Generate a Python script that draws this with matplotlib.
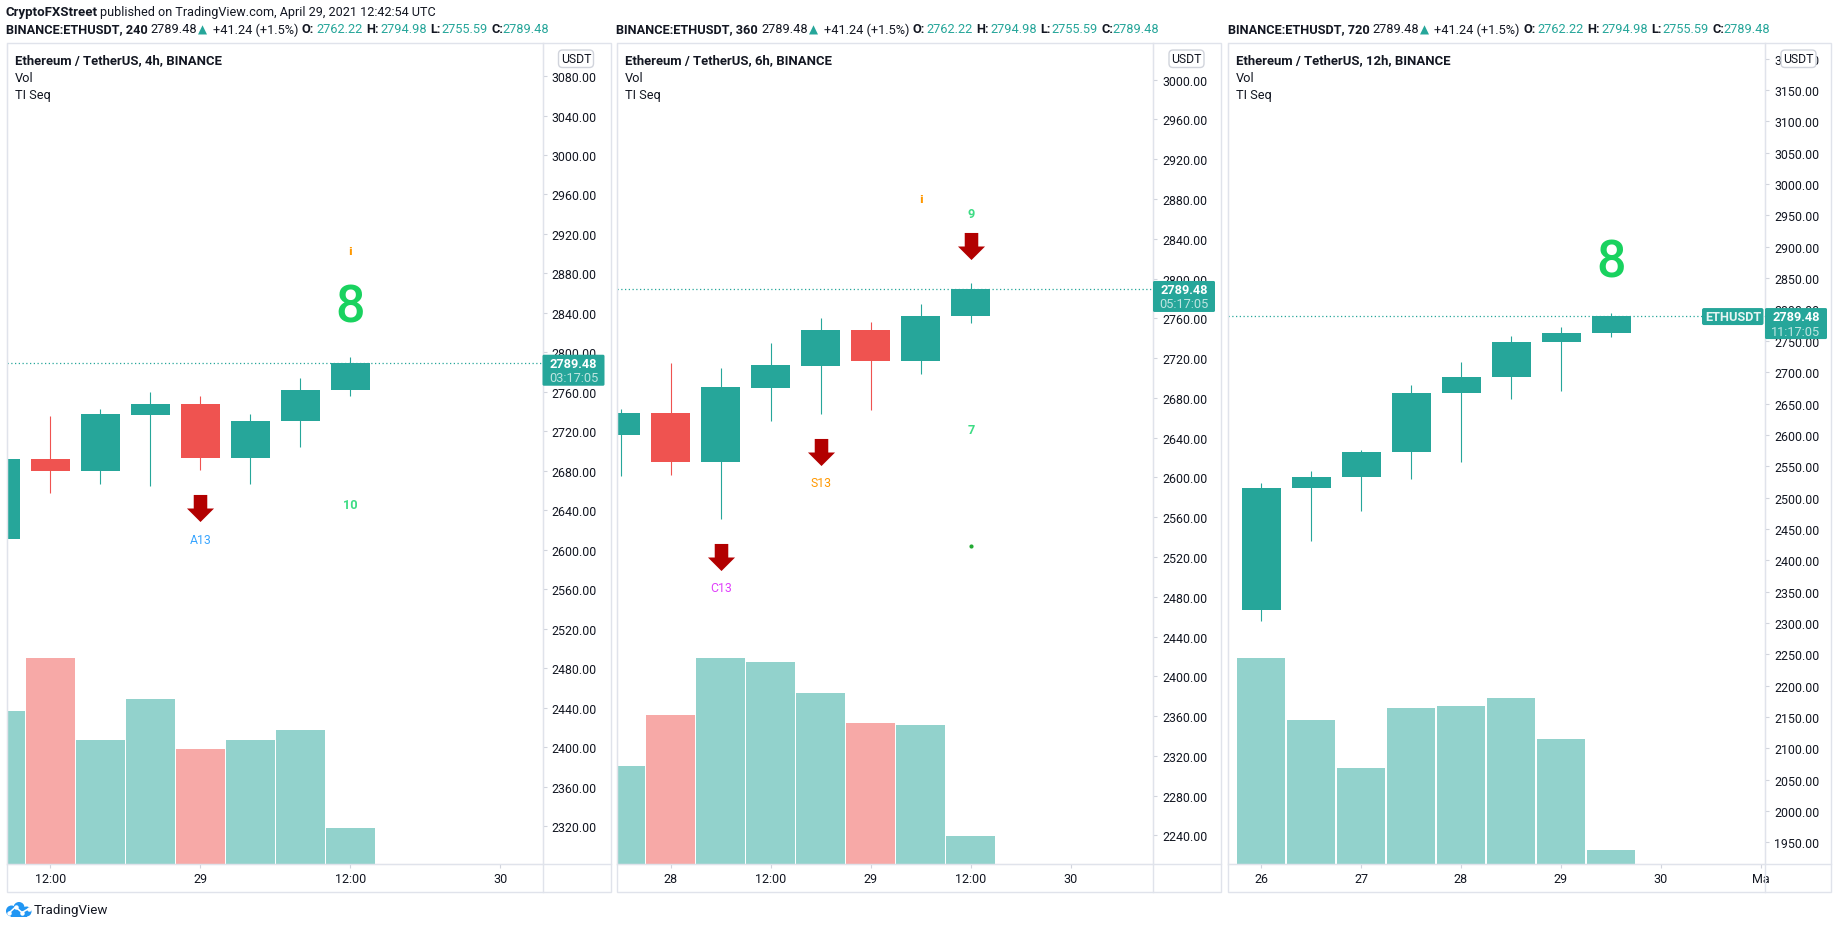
import matplotlib
matplotlib.use("Agg")
import matplotlib.pyplot as plt
from matplotlib.patches import Rectangle, FancyBboxPatch, Circle
from matplotlib.lines import Line2D
from matplotlib.path import Path
from matplotlib.transforms import Affine2D

W, H = 1838, 929
plt.rcParams["font.family"] = ["Roboto", "DejaVu Sans"]

GREEN, RED = "#26a69a", "#ef5350"
VGREEN, VRED = "#92d2cc", "#f7a9a7"
INK = "#131722"
LINE = "#e0e3eb"
LAST_CLOSE = 2789.48

# ---- 4h panel
h4_open = [2611, 2692, 2680, 2737, 2748, 2693, 2730, 2762.22]
h4_close = [2692, 2680, 2738, 2748, 2693, 2730.5, 2762, 2789.48]
h4_high = [2692, 2735, 2743, 2760, 2756, 2738, 2774, 2794.98]
h4_low = [2611, 2657, 2667, 2665, 2681, 2667, 2704, 2755.59]
h4_volume = [153, 206, 124, 165, 115, 124, 134, 36]
h4_yticks = list(range(2320, 3081, 40))
h4_xticks = [1, 4, 7, 10]
h4_xlabels = ["12:00", "29", "12:00", "30"]

# ---- 6h panel
h6_open = [2643, 2665, 2616, 2690, 2712, 2748, 2717, 2762.22]
h6_close = [2665, 2616, 2691, 2713, 2748, 2717, 2762, 2789.48]
h6_high = [2669, 2715, 2710, 2735, 2760, 2756, 2774, 2794.98]
h6_low = [2601, 2602, 2558, 2657, 2664, 2668, 2704, 2755.59]
h6_volume = [98, 149, 206, 202, 171, 141, 139, 28]
h6_yticks = list(range(2240, 3001, 40))
h6_xticks = [1, 3, 5, 7, 9]
h6_xlabels = ["28", "12:00", "29", "12:00", "30"]

# ---- 12h panel
h12_open = [2320, 2516, 2533, 2572, 2666, 2692, 2748, 2762.22]
h12_close = [2516, 2533, 2572, 2666, 2692, 2748, 2763, 2789.48]
h12_high = [2524, 2543, 2576, 2679, 2716, 2757, 2772, 2794.98]
h12_low = [2303, 2430, 2479, 2529, 2557, 2657, 2670, 2755.59]
h12_volume = [206, 144, 96, 156, 158, 166, 125, 14]
h12_yticks = list(range(1950, 3201, 50))
h12_xticks = [0, 2, 4, 6, 8, 10]
h12_xlabels = ["26", "27", "28", "29", "30", "Ma"]

# ---- TI Seq annotations: (bar index, price, text, style)
h4_labels = [(7, 2845, "8", "big"), (7, 2903, "i", "info"), (7, 2646, "10", "count"), (4, 2610, "A13", "a13")]
h4_arrows = [(4, 2642)]
h6_labels = [(6, 2880, "i", "info"), (7, 2865, "9", "count"), (7, 2648, "7", "count"),
             (4, 2595, "S13", "s13"), (2, 2489, "C13", "c13")]
h6_arrows = [(7, 2833), (4, 2626), (2, 2520)]
h6_dots = [(7, 2531)]
h12_labels = [(7, 2875, "8", "big")]

LABEL_STYLE = {
    "big": dict(color="#19d25f", fontsize=37.5, fontweight="medium"),
    "count": dict(color="#3ddc84", fontsize=9.2, fontweight="bold"),
    "info": dict(color="#ff9800", fontsize=8, fontweight="bold", family="DejaVu Sans"),
    "a13": dict(color="#3aa6ff", fontsize=8.8, fontweight="normal"),
    "s13": dict(color="#ff9800", fontsize=8.8, fontweight="normal"),
    "c13": dict(color="#e040fb", fontsize=8.8, fontweight="normal"),
}

ARROW = Path([(-0.5, 0), (-1, 0), (0, -1), (1, 0), (0.5, 0), (0.5, 1), (-0.5, 1), (-0.5, 0)], closed=True)

fig = plt.figure(figsize=(W / 100, H / 100), dpi=100, facecolor="white")
px = Affine2D().scale(1, -1).translate(0, H)


def ftext(x, y, s, **kw):
    kw.setdefault("va", "center")
    kw.setdefault("ha", "left")
    kw.setdefault("color", INK)
    kw.setdefault("fontsize", 9.2)
    kw.setdefault("zorder", 8)
    return fig.text(x, y, s, transform=px, **kw)


def box(x0, y0, x1, y1, fc, ec="none", z=5, lw=1, rounded=0):
    if rounded:
        p = FancyBboxPatch((x0, y0), x1 - x0, y1 - y0, boxstyle=f"round,pad=0,rounding_size={rounded}",
                           fc=fc, ec=ec, lw=lw, transform=px, zorder=z)
    else:
        p = Rectangle((x0, y0), x1 - x0, y1 - y0, fc=fc, ec=ec, lw=lw, transform=px, zorder=z)
    fig.add_artist(p)


TOP, PLOT_BOTTOM, FRAME_BOTTOM = 43.5, 864.5, 892.5


def panel(left, divider, right, ylim, xlim, o, c, hi, lo, vol, yt, xt, xl, title, labels, arrows,
          dots, countdown, tag_name):
    pos = [left / W, (H - PLOT_BOTTOM) / H, (divider - left) / W, (PLOT_BOTTOM - TOP) / H]
    vax = fig.add_axes(pos, zorder=1)
    vax.set_axis_off()
    vax.set_xlim(*xlim)
    vax.set_ylim(0, PLOT_BOTTOM - TOP)
    xs = range(len(o))
    vax.bar(xs, vol, width=0.975, color=[VGREEN if b >= a else VRED for a, b in zip(o, c)])

    ax = fig.add_axes(pos, zorder=2)
    ax.patch.set_alpha(0)
    ax.set_xlim(*xlim)
    ax.set_ylim(*ylim)
    cols = [GREEN if b >= a else RED for a, b in zip(o, c)]
    ax.vlines(xs, lo, hi, colors=cols, lw=0.8)
    ax.bar(xs, [b - a for a, b in zip(o, c)], bottom=o, width=0.78, color=cols)
    ax.axhline(LAST_CLOSE, color=GREEN, lw=0.9, ls=(0, (1, 2)))

    for s in ax.spines.values():
        s.set_color(LINE)
    ax.spines["top"].set_visible(False)
    ax.yaxis.tick_right()
    ax.set_yticks(yt)
    ax.set_yticklabels([f"{v:.2f}" for v in yt])
    ax.set_ylim(*ylim)
    ax.set_xticks(xt)
    ax.set_xticklabels(xl)
    ax.set_xlim(*xlim)
    ax.tick_params(axis="y", length=3, width=0.8, color="#d1d4dc", labelcolor=INK, labelsize=8.9, pad=3.5)
    ax.tick_params(axis="x", length=3, width=0.8, color="#d1d4dc", labelcolor=INK, labelsize=9, pad=3)

    for i, p, t, st in labels:
        ax.text(i, p, t, ha="center", va="center", **LABEL_STYLE[st])
    for i, p in arrows:
        ax.plot([i], [p], marker=ARROW, ms=19.5, color="#b20000", mec="none", ls="none", zorder=6)
    for i, p in dots:
        ax.plot([i], [p], marker="o", ms=3, color="#22aa33", mec="none", ls="none", zorder=6)

    # frame
    box(left, TOP, right, FRAME_BOTTOM, "none", LINE, z=4)
    fig.add_artist(Line2D([divider, divider], [TOP, FRAME_BOTTOM], color=LINE, lw=1, transform=px, zorder=4))
    fig.add_artist(Line2D([left, right], [PLOT_BOTTOM, PLOT_BOTTOM], color=LINE, lw=1, transform=px, zorder=4))

    # legend
    ftext(left + 8.5, 61, title, fontweight="bold", fontsize=9.45)
    ftext(left + 8.5, 78.5, "Vol")
    ftext(left + 8.5, 96, "TI Seq")

    # currency box
    box(divider + 16, 51, divider + 51, 68.5, "white", "#d1d4dc", z=5, rounded=4)
    ftext(divider + 33.5, 60, "USDT", ha="center", fontsize=8.8)

    # price tag
    y_last = H - ax.transData.transform((0, LAST_CLOSE))[1]
    box(divider, y_last - 8, divider + 62, y_last + 23, GREEN, z=6, rounded=1.5)
    ftext(divider + 31, y_last + 0.5, f"{LAST_CLOSE:.2f}", ha="center", color="white", fontweight="bold", fontsize=9.2)
    ftext(divider + 31, y_last + 15, countdown, ha="center", color="#bfe5e1", fontsize=9.2)
    if tag_name:
        box(divider - 63, y_last - 8, divider - 1.5, y_last + 9, GREEN, z=6, rounded=2)
        ftext(divider - 32, y_last + 0.5, tag_name, ha="center", color="#e6f5f3", fontweight="bold", fontsize=9.2)


panel(6.7, 542.5, 610.7, (2282, 3114), (0.13, 10.846),
      h4_open, h4_close, h4_high, h4_low, h4_volume, h4_yticks, h4_xticks, h4_xlabels,
      "Ethereum / TetherUS, 4h, BINANCE", h4_labels, h4_arrows, [], "03:17:05", None)
panel(616.6, 1153, 1220.6, (2211.8, 3037.3), (-0.084, 10.644),
      h6_open, h6_close, h6_high, h6_low, h6_volume, h6_yticks, h6_xticks, h6_xlabels,
      "Ethereum / TetherUS, 6h, BINANCE", h6_labels, h6_arrows, h6_dots, "05:17:05", None)
panel(1227.5, 1765, 1831, (1916.5, 3225.7), (-0.67, 10.08),
      h12_open, h12_close, h12_high, h12_low, h12_volume, h12_yticks, h12_xticks, h12_xlabels,
      "Ethereum / TetherUS, 12h, BINANCE", h12_labels, [], [], "11:17:05", "ETHUSDT")

# header
ftext(6, 12.5, "CryptoFXStreet", fontweight="bold", fontsize=9.5)
ftext(99.5, 12.5, "published on TradingView.com, April 29, 2021 12:42:54 UTC", fontsize=9.1)


def quote(x0, interval):
    y = 30
    ftext(x0, y, f"BINANCE:ETHUSDT, {interval}", fontweight="bold")
    ftext(x0 + 144.5, y, "2789.48")
    ftext(x0 + 192, y, "\u25b2", color=GREEN, fontsize=8.5, family="DejaVu Sans")
    ftext(x0 + 207, y, "+41.24 (+1.5%)")
    for dx, k, v in [(296, "O:", "2762.22"), (360, "H:", "2794.98"), (424, "L:", "2755.59"), (485, "C:", "2789.48")]:
        ftext(x0 + dx, y, k, fontweight="bold")
        ftext(x0 + dx + (11 if k in ("L:", "C:") else 14), y, v, color=GREEN)


quote(6, 240)
quote(616.5, 360)
quote(1227.5, 720)

# TradingView logo
for cx, cy, r in [(11.5, 912, 5.5), (19, 908.5, 5.5), (26.5, 912.5, 5)]:
    fig.add_artist(Circle((cx, cy), r, fc="#2196f3", ec="none", transform=px, zorder=6))
box(11, 910, 27, 917.5, "#2196f3", z=6)
fig.add_artist(Line2D([9, 15.5, 22, 29], [914, 908, 913.5, 909.5], color="white", lw=1.1, marker="o", ms=2.2,
                      transform=px, zorder=7))
ftext(34, 911, "TradingView", fontsize=9.6)

fig.savefig("out.png", dpi=100, facecolor="white")
